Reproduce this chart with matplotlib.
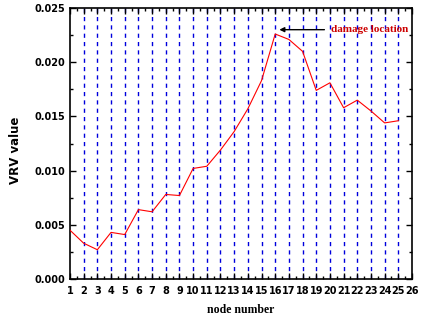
import numpy as np
import matplotlib
matplotlib.use('Agg')
import matplotlib.pyplot as plt
from matplotlib.ticker import MultipleLocator

######################################################################
# node numbers and VRV values
nodes = np.arange(1, 26)
vrv = [0.0045, 0.0033, 0.0027, 0.0043, 0.0041, 0.0064, 0.0062, 0.0078,
       0.0077, 0.0102, 0.0104, 0.0119, 0.0136, 0.0157, 0.0183, 0.0226,
       0.0221, 0.0210, 0.0174, 0.0181, 0.0158, 0.0165, 0.0155, 0.0144,
       0.0146]

# node positions marked with vertical guide lines
guide_nodes = np.arange(2, 26)

x_ticks = np.arange(1, 27)
y_ticks = [0.000, 0.005, 0.010, 0.015, 0.020, 0.025]

damage_node = 16
damage_label = 'damage location'

fig = plt.figure(figsize=(4.23, 3.22), dpi=100)
ax = fig.add_axes([70 / 423, 1 - 279 / 322, 342 / 423, 271 / 322])

for n in guide_nodes:
    ax.axvline(n, color='#0000dd', lw=1.0, ls=(0, (3, 3)), zorder=1)

ax.plot(nodes, vrv, color='red', lw=0.8, zorder=3)

ax.set_xlim(1, 26)
ax.set_ylim(0, 0.025)
ax.set_xticks(x_ticks)
ax.set_yticks(y_ticks)
ax.set_yticklabels(['%.3f' % v for v in y_ticks])
ax.xaxis.set_minor_locator(MultipleLocator(0.5))
ax.yaxis.set_minor_locator(MultipleLocator(0.0025))
ax.tick_params(which='both', direction='in', top=True, right=True,
               width=1.0, labelsize=7)
ax.tick_params(which='major', length=4)
ax.tick_params(which='minor', length=2)
for lab in ax.get_xticklabels() + ax.get_yticklabels():
    lab.set_fontweight('bold')
ax.tick_params(axis='x', pad=5)
for sp in ax.spines.values():
    sp.set_linewidth(1.2)

ax.set_xlabel('node number', fontsize=8.5, fontweight='bold',
              family='Liberation Serif', labelpad=6)
ax.set_ylabel('VRV value', fontsize=8.5, fontweight='bold')
ax.yaxis.set_label_coords(-0.14, 0.475)

# annotation pointing at the peak
peak = vrv[list(nodes).index(damage_node)]
ax.annotate('', xy=(damage_node + 0.1, peak + 0.0004),
            xytext=(damage_node + 3.8, peak + 0.0004),
            arrowprops=dict(arrowstyle='-|>', color='black', lw=1.0,
                            mutation_scale=7))
ax.text(damage_node + 4.1, peak + 0.0004, damage_label, color='#cc0000',
        fontsize=8, fontweight='bold', family='Liberation Serif',
        va='center', ha='left')

fig.savefig('out.png', dpi=100)
